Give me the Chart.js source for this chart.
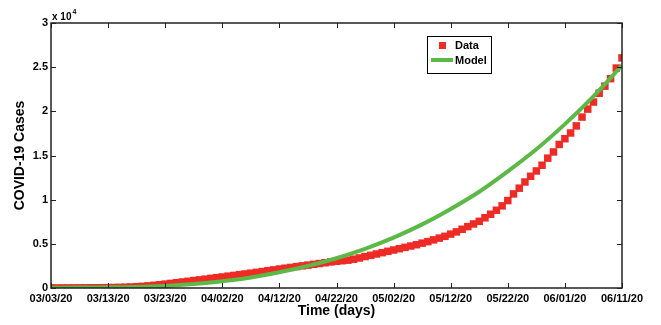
<!DOCTYPE html>
<html>
<head>
<meta charset="utf-8">
<script src="https://cdn.jsdelivr.net/npm/chart.js@4"></script>
<style>
  body { margin: 0; background: #fff; }
</style>
</head>
<body>
<canvas id="courbe" width="661" height="325"></canvas>
<script>
const xTickLabels = ['03/03/20', '03/13/20', '03/23/20', '04/02/20', '04/12/20', '04/22/20',
                     '05/02/20', '05/12/20', '05/22/20', '06/01/20', '06/11/20'];
const yTickLabels = ['0', '0.5', '1', '1.5', '2', '2.5', '3'];

// cumulative cases, one value per day from 03/03/20 (day 0) to 06/11/20 (day 100)
const dailyCases = [
    5, 8, 10, 12, 15, 18, 22, 26, 30, 36,
    45, 55, 70, 90, 115, 150, 190, 240, 300, 370,
    440, 520, 600, 680, 760, 840, 920, 1000, 1090, 1170,
    1250, 1340, 1420, 1510, 1590, 1680, 1770, 1860, 1960, 2050,
    2150, 2240, 2330, 2420, 2510, 2590, 2680, 2770, 2860, 2950,
    3030, 3090, 3150, 3260, 3400, 3560, 3700, 3850, 4000, 4150,
    4300, 4450, 4600, 4750, 4900, 5080, 5250, 5450, 5650, 5850,
    6100, 6350, 6650, 6950, 7250, 7550, 7950, 8350, 8800, 9300,
    9900, 10650, 11300, 12000, 12650, 13250, 13900, 14700, 15400, 16250,
    16900, 17550, 18350, 19350, 20250, 21050, 22050, 22850, 23700, 24900,
    26050
];

// model curve, read every 5 days
const modelDays = [0, 5, 10, 15, 20, 25, 30, 35, 40, 45, 50, 55, 60, 65, 70, 75, 80, 85, 90, 95, 100];
const modelCases = [30, 50, 80, 110, 230, 450, 770, 1200, 1780, 2500, 3370,
                    4430, 5700, 7200, 8950, 10900, 13200, 15700, 18550, 21700, 25200];

const rouge = '#ee2b25';
const vert = '#5db946';

Chart.defaults.font.family = '"Liberation Sans", Arial, sans-serif';
Chart.defaults.color = '#000';

const cadre = {
    id: 'cadre',
    afterDraw(chart) {
        const ctx = chart.ctx;
        const a = chart.chartArea;
        const sx = chart.scales.x;
        const sy = chart.scales.y;
        ctx.save();
        ctx.strokeStyle = '#222';
        ctx.lineWidth = 1;
        ctx.beginPath();
        sx.ticks.forEach(t => {
            const px = Math.round(sx.getPixelForValue(t.value)) + 0.5;
            ctx.moveTo(px, a.bottom); ctx.lineTo(px, a.bottom - 5);
            ctx.moveTo(px, a.top); ctx.lineTo(px, a.top + 5);
        });
        sy.ticks.forEach(t => {
            const py = Math.round(sy.getPixelForValue(t.value)) + 0.5;
            ctx.moveTo(a.left, py); ctx.lineTo(a.left + 5, py);
            ctx.moveTo(a.right, py); ctx.lineTo(a.right - 5, py);
        });
        ctx.stroke();
        ctx.lineWidth = 1.5;
        ctx.strokeRect(a.left, a.top, a.right - a.left, a.bottom - a.top);

        // multiplicateur
        ctx.fillStyle = '#000';
        ctx.textBaseline = 'alphabetic';
        ctx.font = 'bold 10px "Liberation Sans", Arial, sans-serif';
        ctx.fillText('x 10', a.left + 1, a.top - 3);
        const w = ctx.measureText('x 10').width;
        ctx.font = 'bold 7px "Liberation Sans", Arial, sans-serif';
        ctx.fillText('4', a.left + 2 + w, a.top - 9);

        // legende
        const lx = 427, ly = 36, lw = 64, lh = 37;
        ctx.fillStyle = '#fff';
        ctx.fillRect(lx, ly, lw, lh);
        ctx.strokeStyle = '#000';
        ctx.lineWidth = 1;
        ctx.strokeRect(lx + 0.5, ly + 0.5, lw, lh);
        const ds = chart.data.datasets;
        ctx.fillStyle = rouge;
        ctx.fillRect(lx + 12, ly + 6, 7, 7);
        ctx.strokeStyle = vert;
        ctx.lineWidth = 4;
        ctx.beginPath();
        ctx.moveTo(lx + 4, ly + 24); ctx.lineTo(lx + 26, ly + 24);
        ctx.stroke();
        ctx.fillStyle = '#000';
        ctx.font = 'bold 11px "Liberation Sans", Arial, sans-serif';
        ctx.textBaseline = 'middle';
        ctx.fillText(ds[0].label, lx + 28, ly + 10);
        ctx.fillText(ds[1].label, lx + 28, ly + 25);
        ctx.restore();
    }
};

const ctx = document.getElementById('courbe').getContext('2d');
const graphe = new Chart(ctx, {
    type: 'line',
    data: {
        datasets: [{
            label: 'Data',
            data: dailyCases.map((v, i) => ({ x: i, y: v })),
            showLine: false,
            pointStyle: 'rect',
            pointRadius: 5.3,
            pointBorderWidth: 0,
            pointBackgroundColor: rouge,
            borderColor: rouge,
            backgroundColor: rouge,
            order: 2
        }, {
            label: 'Model',
            data: modelDays.map((d, i) => ({ x: d, y: modelCases[i] })),
            borderColor: vert,
            backgroundColor: vert,
            borderWidth: 4,
            pointRadius: 0,
            tension: 0.4,
            cubicInterpolationMode: 'monotone',
            fill: false,
            order: 1
        }]
    },
    options: {
        responsive: false,
        animation: false,
        layout: { padding: { top: 23, right: 39, left: 0, bottom: 0 } },
        plugins: {
            legend: { display: false },
            tooltip: { enabled: false }
        },
        scales: {
            x: {
                type: 'linear',
                min: 0,
                max: 100,
                grid: { display: false, drawTicks: false },
                border: { display: false },
                ticks: {
                    stepSize: 10,
                    autoSkip: false,
                    maxRotation: 0,
                    padding: 4,
                    font: { size: 11, weight: 'bold' },
                    callback: (v, i) => xTickLabels[i]
                },
                title: {
                    display: true,
                    text: 'Time (days)',
                    font: { size: 14, weight: 'bold' },
                    padding: { top: 0, bottom: 5 }
                },
                afterFit(s) { s.height = 37; }
            },
            y: {
                min: 0,
                max: 30000,
                grid: { display: false, drawTicks: false },
                border: { display: false },
                ticks: {
                    stepSize: 5000,
                    padding: 3,
                    font: { size: 11, weight: 'bold' },
                    callback: (v, i) => yTickLabels[i]
                },
                title: {
                    display: true,
                    text: 'COVID-19 Cases',
                    font: { size: 14, weight: 'bold' },
                    padding: { top: 12, bottom: 0 }
                },
                afterFit(s) { s.width = 51; }
            }
        }
    },
    plugins: [cadre]
});
</script>
</body>
</html>
